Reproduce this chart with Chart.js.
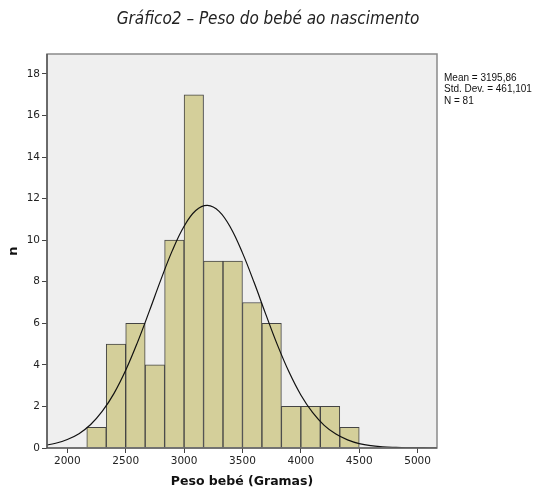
<!DOCTYPE html>
<html>
<head>
<meta charset="utf-8">
<script src="https://cdn.jsdelivr.net/npm/chart.js@4.4.0/dist/chart.umd.min.js"></script>
<style>
  html, body { margin: 0; padding: 0; background: #fff; }
  #wrap { width: 546px; height: 489px; }
</style>
</head>
<body>
<div id="wrap"><canvas id="myChart" width="546" height="489"></canvas></div>
<script>
// histogram bins (lower edge of each bin, grams) and counts
var binStarts = [2166.7, 2333.3, 2500, 2666.7, 2833.3, 3000, 3166.7, 3333.3, 3500, 3666.7, 3833.3, 4000, 4166.7, 4333.3]
var counts = [1, 5, 6, 4, 10, 17, 9, 9, 7, 6, 2, 2, 2, 1]
var binWidth = 166.7

// normal curve
var curveX = [1800, 1900, 2000, 2100, 2200, 2300, 2400, 2500, 2600, 2700, 2800, 2900, 3000, 3100, 3200,
    3300, 3400, 3500, 3600, 3700, 3800, 3900, 4000, 4100, 4200, 4300, 4400, 4500, 4600, 4700, 4800, 4900, 5000, 5100, 5200]
var curveY = [0.12, 0.23, 0.41, 0.69, 1.13, 1.77, 2.63, 3.74, 5.07, 6.55, 8.08, 9.51, 10.67, 11.43, 11.68,
    11.39, 10.59, 9.39, 7.96, 6.43, 4.95, 3.64, 2.55, 1.71, 1.09, 0.67, 0.39, 0.21, 0.11, 0.06, 0.03, 0.01, 0.01, 0, 0]

var xTicks = [2000, 2500, 3000, 3500, 4000, 4500, 5000]
var yTicks = [0, 2, 4, 6, 8, 10, 12, 14, 16, 18]
var stats = ["Mean = 3195,86", "Std. Dev. = 461,101", "N = 81"]
var titleText = "Gráfico2 – Peso do bebé ao nascimento"

var bars = []
binStarts.forEach((b, i) => {
    bars.push({ x: b + binWidth / 2, y: counts[i] })
})
var curve = []
curveX.forEach((x, i) => {
    curve.push({ x: x, y: curveY[i] })
})

let areaPlugin = {
    id: 'area',
    beforeDraw(chart) {
        let a = chart.chartArea, ctx = chart.ctx
        ctx.save()
        ctx.fillStyle = '#efefef'
        ctx.fillRect(a.left, a.top, a.right - a.left, a.bottom - a.top)
        ctx.restore()
    },
    afterDraw(chart) {
        let a = chart.chartArea, ctx = chart.ctx
        ctx.save()
        ctx.strokeStyle = '#8a8a8a'
        ctx.lineWidth = 1.5
        ctx.strokeRect(a.left, a.top, a.right - a.left, a.bottom - a.top)
        ctx.strokeStyle = '#444'
        ctx.lineWidth = 1.2
        ctx.beginPath()
        ctx.moveTo(a.left, a.top)
        ctx.lineTo(a.left, a.bottom)
        ctx.lineTo(a.right, a.bottom)
        ctx.stroke()
        // title
        ctx.fillStyle = '#222'
        ctx.font = 'italic 17px "Liberation Sans Narrow", "DejaVu Sans Condensed", sans-serif'
        ctx.textAlign = 'center'
        ctx.textBaseline = 'middle'
        ctx.fillText(titleText, 268, 20)
        // stats box text
        ctx.fillStyle = '#111'
        ctx.font = '10px "Liberation Sans"'
        ctx.textAlign = 'left'
        stats.forEach((s, i) => {
            ctx.fillText(s, a.right + 7, 78 + i * 11.5)
        })
        ctx.restore()
    }
}

new Chart("myChart", {
    data: {
        datasets: [{
            type: 'line',
            data: curve,
            borderColor: '#111',
            borderWidth: 1.2,
            pointRadius: 0,
            tension: 0.4,
            fill: false
        }, {
            type: 'bar',
            data: bars,
            backgroundColor: '#d4cf9a',
            borderColor: '#444',
            borderWidth: 1,
            barPercentage: 1,
            categoryPercentage: 1
        }]
    },
    options: {
        responsive: false,
        animation: false,
        layout: { padding: { left: 0, right: 109, top: 54, bottom: 0 } },
        plugins: {
            legend: { display: false },
            tooltip: { enabled: false },
            title: { display: false }
        },
        scales: {
            x: {
                type: 'linear',
                min: 1826,
                max: 5166,
                offset: false,
                afterBuildTicks: (s) => { s.ticks = xTicks.map(v => ({ value: v })) },
                afterFit: (s) => { s.height = 41 },
                grid: { display: true, offset: false, drawOnChartArea: false, tickLength: 5, color: '#444' },
                border: { display: false },
                ticks: { color: '#222', font: { family: 'DejaVu Sans', size: 10.5 }, padding: 2, maxRotation: 0, callback: (v) => String(v) },
                title: {
                    display: true,
                    text: 'Peso bebé (Gramas)',
                    color: '#111',
                    font: { family: 'DejaVu Sans', size: 12.5, weight: 'bold' },
                    padding: { top: 6, bottom: 0 }
                }
            },
            y: {
                min: 0,
                max: 18.96,
                afterBuildTicks: (s) => { s.ticks = yTicks.map(v => ({ value: v })) },
                afterFit: (s) => { s.width = 47 },
                grid: { display: true, drawOnChartArea: false, tickLength: 5, color: '#444' },
                border: { display: false },
                ticks: { color: '#222', font: { family: 'DejaVu Sans', size: 10.5 }, padding: 2 },
                title: {
                    display: true,
                    text: 'n',
                    color: '#111',
                    font: { family: 'DejaVu Sans', size: 13, weight: 'bold' },
                    padding: { top: 6, bottom: 0 }
                }
            }
        }
    },
    plugins: [areaPlugin]
});
</script>
</body>
</html>
